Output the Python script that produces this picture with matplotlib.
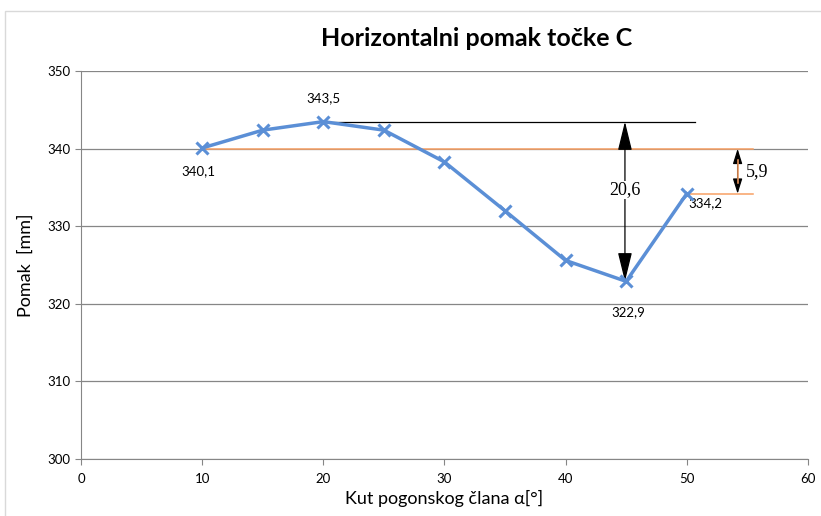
import matplotlib
matplotlib.use("Agg")
import matplotlib.pyplot as plt
from matplotlib.patches import Rectangle

plt.rcParams.update({
    "font.family": ["Lato", "DejaVu Sans"], "font.size": 10,
})

# data
kut = [10, 15, 20, 25, 30, 35, 40, 45, 50]
pomak = [340.1, 342.4, 343.5, 342.4, 338.3, 332.0, 325.6, 322.9, 334.2]
labels = {10: "340,1", 20: "343,5", 45: "322,9", 50: "334,2"}
yticks = [300, 310, 320, 330, 340, 350]
xticks = [0, 10, 20, 30, 40, 50, 60]

blue = "#5B8FD6"
orange = "#F8A064"

fig = plt.figure(figsize=(8.21, 5.16), dpi=100)
fig.patches.append(Rectangle((0.006, -0.01), 1.2, 0.988, transform=fig.transFigure,
                             fill=False, edgecolor="#D9D9D9", lw=1.0))
ax = fig.add_axes([0.0987, 0.1105, 0.8853, 0.7515])

ax.set_xlim(0, 60); ax.set_ylim(300, 350)
ax.set_xticks(xticks); ax.set_yticks(yticks)
ax.yaxis.grid(True, color="#868686", lw=0.9)
ax.set_axisbelow(True)
for s in ["top", "right"]:
    ax.spines[s].set_visible(False)
for s in ["left", "bottom"]:
    ax.spines[s].set_color("#868686")
ax.tick_params(axis="both", colors="#868686", labelcolor="black", length=4, labelsize=9.5)
ax.tick_params(axis="x", pad=6)

# reference lines and dimension arrows
ax.plot([10, 55.5], [340, 340], color=orange, lw=1.1, zorder=2)
ax.plot([50, 55.5], [334.2, 334.2], color=orange, lw=1.1, zorder=2)
ax.plot([20, 50.7], [343.5, 343.5], color="black", lw=0.9, zorder=2)

ax.annotate("", xy=(44.9, 343.5), xytext=(44.9, 322.9),
            arrowprops=dict(arrowstyle="<|-|>,head_length=0.9,head_width=0.22", color="black",
                            lw=0.9, mutation_scale=20, shrinkA=0, shrinkB=0), zorder=3)
ax.text(44.9, 334.7, "20,6", ha="center", va="center", fontsize=13,
        family="Liberation Serif", bbox=dict(fc="white", ec="none", pad=0.5), zorder=4)
ax.annotate("", xy=(54.2, 340), xytext=(54.2, 334.2),
            arrowprops=dict(arrowstyle="<|-|>,head_length=0.7,head_width=0.22", color="black",
                            lw=0.9, mutation_scale=13, shrinkA=0, shrinkB=0), zorder=3)
ax.plot([54.2, 54.2], [338.6, 335.6], color=orange, lw=1.1, zorder=3)
ax.text(54.9, 337.0, "5,9", ha="left", va="center", fontsize=13,
        family="Liberation Serif")

ax.plot(kut, pomak, color=blue, lw=2.5, marker="x", ms=8, mew=2.2, zorder=5)

offs = {10: (-0.3, -2.2, "center", "top"), 20: (0, 2.2, "center", "bottom"),
        45: (0.2, -3.2, "center", "top"), 50: (0.1, -0.5, "left", "top")}
for x, y in zip(kut, pomak):
    if x in labels:
        dx, dy, ha, va = offs[x]
        ax.text(x + dx, y + dy, labels[x], ha=ha, va=va, fontsize=9.5)

fig.text(0.581, 0.926, "Horizontalni pomak točke C", ha="center", va="center",
         fontsize=18, fontweight="bold")
ax.set_xlabel("Kut pogonskog člana α[°]", fontsize=13)
ax.set_ylabel("Pomak  [mm]", fontsize=13, labelpad=10)

fig.savefig("out.png", dpi=100)
